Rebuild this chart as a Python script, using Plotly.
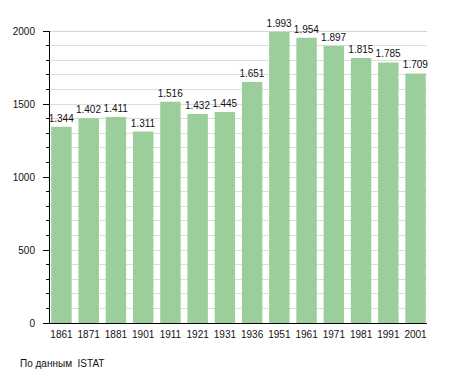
import plotly.graph_objects as go

years = ["1861", "1871", "1881", "1901", "1911", "1921", "1931", "1936",
         "1951", "1961", "1971", "1981", "1991", "2001"]
population = [1344, 1402, 1411, 1311, 1516, 1432, 1445, 1651,
              1993, 1954, 1897, 1815, 1785, 1709]
labels = [f"{v:,}".replace(",", ".") for v in population]
y_ticks = [0, 500, 1000, 1500, 2000]

FONT = "Liberation Sans, Arial, sans-serif"

fig = go.Figure(go.Bar(
    x=years, y=population, text=labels, textposition="outside",
    textfont=dict(size=10, color="#111"), cliponaxis=False,
    constraintext="none",
    marker=dict(color="rgb(156,206,156)", line=dict(width=0)),
    width=0.75,
))

fig.update_layout(
    width=447, height=365,
    margin=dict(l=42, r=28, t=23, b=50, autoexpand=False),
    paper_bgcolor="white", plot_bgcolor="white",
    font=dict(family=FONT, size=10, color="#111"),
    showlegend=False,
    xaxis=dict(type="category", range=[-0.42, 13.42], showgrid=False,
               ticks="", showline=True, linecolor="black", linewidth=1,
               tickfont=dict(size=10), ticklabelstandoff=2, automargin=False),
    yaxis=dict(range=[0, 2000], tickvals=y_ticks, ticks="outside", ticklen=6,
               tickcolor="black", showline=True, linecolor="black", linewidth=1,
               showgrid=True, gridcolor="#dddddd", zeroline=False,
               tickfont=dict(size=10), automargin=False, ticklabelstandoff=6,
               minor=dict(dtick=100, ticks="outside", ticklen=3, tickcolor="black",
                          showgrid=True, gridcolor="#dddddd")),
    shapes=[dict(type="line", xref="paper", yref="y", x0=0, x1=1, y0=2000, y1=2000,
                 line=dict(color="#aaaaaa", width=1), layer="below")],
    annotations=[dict(text="По данным  ISTAT", xref="paper", yref="paper",
                      x=-32/377, y=-33/292, xanchor="left", yanchor="top",
                      showarrow=False, font=dict(size=10, color="#111"))],
)

fig.write_html("out.html")
